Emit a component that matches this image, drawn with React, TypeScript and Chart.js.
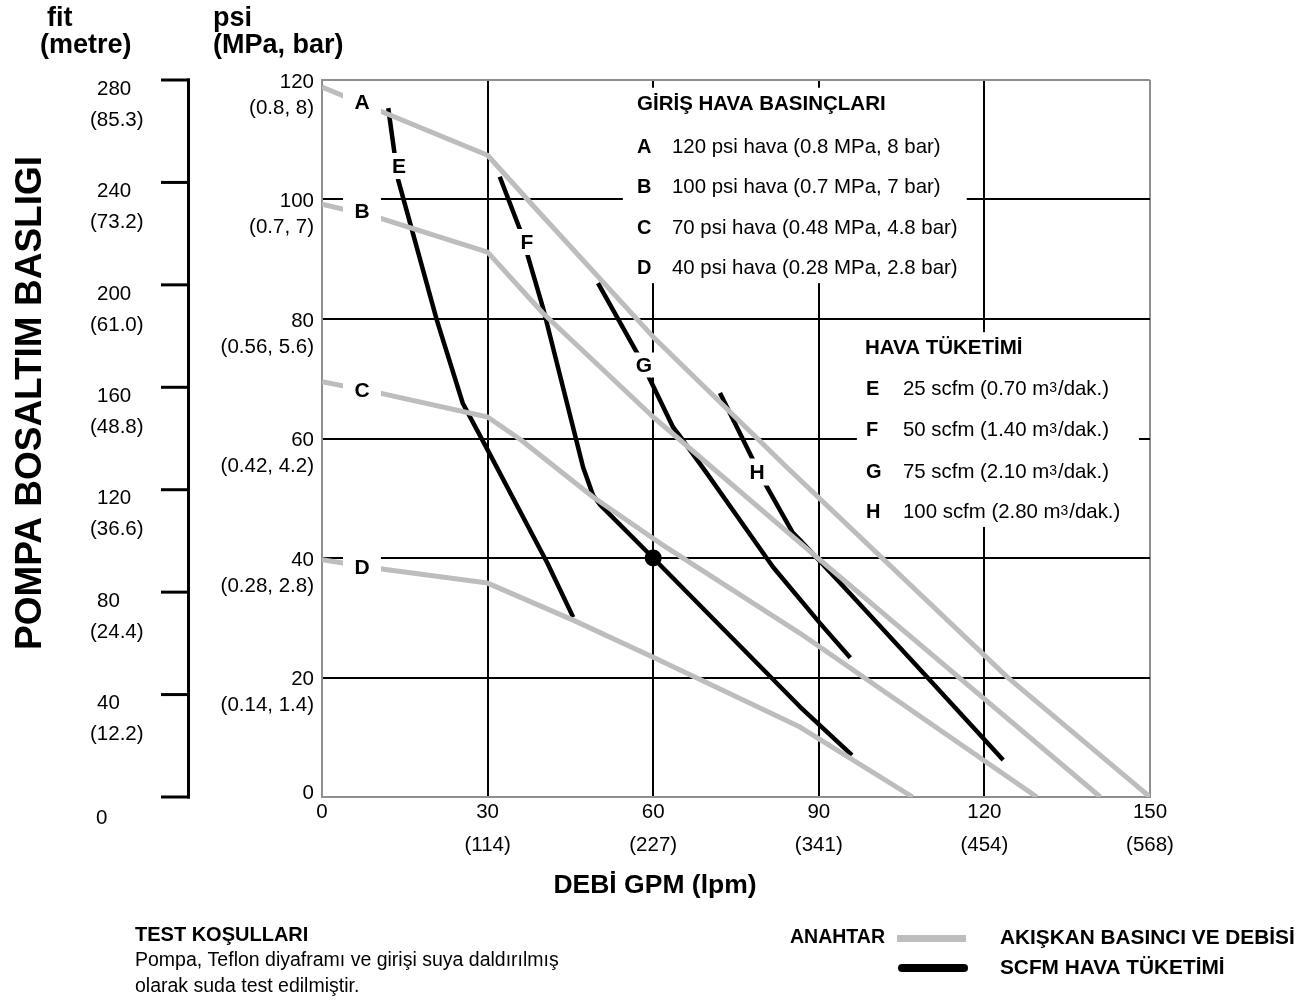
import React, { useEffect, useRef } from "react";
import { Chart, registerables } from "chart.js";

Chart.register(...registerables);

const FONT = '"Liberation Sans", Arial, Helvetica, sans-serif';
const GRAY = "#bdbdbd";
const BLACK = "#000000";
const FRAME = "#8f8f8f";

// ---- axis tick labels ----
const xTickValues = [0, 30, 60, 90, 120, 150];
const xTickLpm = ["", "(114)", "(227)", "(341)", "(454)", "(568)"];
const yTickValues = [0, 20, 40, 60, 80, 100, 120];
const yTickMpaBar = ["", "(0.14, 1.4)", "(0.28, 2.8)", "(0.42, 4.2)", "(0.56, 5.6)", "(0.7, 7)", "(0.8, 8)"];
const fitTickValues = [0, 40, 80, 120, 160, 200, 240, 280];
const fitTickMetre = ["", "(12.2)", "(24.4)", "(36.6)", "(48.8)", "(61.0)", "(73.2)", "(85.3)"];

// ---- fluid pressure & flow curves (gray) : GPM / psi ----
const curveA_gpm = [0, 30, 38, 60, 84.2, 124.1, 150];
const curveA_psi = [118.8, 107.4, 99.2, 77.0, 55.2, 20.1, 0];
const curveB_gpm = [0, 10.5, 30, 40, 60, 90.2, 141];
const curveB_psi = [99.2, 96.9, 91.2, 81.0, 63.6, 39.7, 0];
const curveC_gpm = [0, 10.5, 30, 36, 49.1, 61.2, 86.6, 129.5];
const curveC_psi = [69.5, 67.6, 63.6, 59.8, 50.2, 42.5, 27.4, 0];
const curveD_gpm = [0, 10.5, 30, 45.5, 60, 86.6, 107];
const curveD_psi = [39.7, 38.2, 35.8, 29.6, 23.4, 11.7, 0];

// ---- air consumption curves (black) : GPM / psi ----
const curveE_gpm = [12, 13.8, 20.8, 25.5, 30, 40.8, 45.5];
const curveE_psi = [115.3, 103.3, 79.8, 65.9, 58.1, 39.2, 30.1];
const curveF_gpm = [32.2, 35.9, 40.0, 47.3, 49.1, 50.4, 60, 86.6, 96];
const curveF_psi = [103.8, 94.9, 82.0, 55.2, 50.5, 48.9, 40, 15.1, 7.0];
const curveG_gpm = [50, 57.1, 63.6, 64.9, 69.7, 81.7, 90.2, 95.7];
const curveG_psi = [86.0, 74.3, 61.9, 60.3, 54.2, 38.5, 29.1, 23.3];
const curveH_gpm = [72.1, 78.1, 80.6, 85.3, 86.6, 95.1, 108.9, 123.4];
const curveH_psi = [67.6, 56.4, 51.9, 44.2, 43.0, 34.6, 20.8, 6.2];

// ---- operating point ----
const pointGpm = [60];
const pointPsi = [40];

// ---- legend texts ----
const pressureTitle = "GİRİŞ HAVA BASINÇLARI";
const pressureKeys = ["A", "B", "C", "D"];
const pressureTexts = [
  "120 psi hava (0.8 MPa, 8 bar)",
  "100 psi hava (0.7 MPa, 7 bar)",
  "70 psi hava (0.48 MPa, 4.8 bar)",
  "40 psi hava (0.28 MPa, 2.8 bar)",
];
const airTitle = "HAVA TÜKETİMİ";
const airKeys = ["E", "F", "G", "H"];
const airTexts = ["25 scfm (0.70 m", "50 scfm (1.40 m", "75 scfm (2.10 m", "100 scfm (2.80 m"];

const toXY = (xs: number[], ys: number[]) => xs.map((x, i) => ({ x, y: ys[i] }));

function txt(
  ctx: CanvasRenderingContext2D,
  s: string,
  x: number,
  y: number,
  font: string,
  align: CanvasTextAlign = "left"
) {
  ctx.font = font;
  ctx.textAlign = align;
  ctx.textBaseline = "middle";
  ctx.fillStyle = "#000";
  ctx.fillText(s, x, y);
}

const overlayPlugin = {
  id: "overlay",
  beforeDatasetsDraw(chart: any) {
    const ctx: CanvasRenderingContext2D = chart.ctx;
    const xs = chart.scales.x;
    const ys = chart.scales.y;
    ctx.save();
    ctx.fillStyle = "#fff";
    // white backgrounds of the two legend blocks (hide grid lines)
    const b1x1 = xs.getPixelForValue(54.5), b1x2 = xs.getPixelForValue(116.8);
    const b1y1 = ys.getPixelForValue(118.7), b1y2 = ys.getPixelForValue(86.0);
    ctx.fillRect(b1x1, b1y1, b1x2 - b1x1, b1y2 - b1y1);
    const b2x1 = xs.getPixelForValue(96.9), b2x2 = xs.getPixelForValue(148.0);
    const b2y1 = ys.getPixelForValue(77.8), b2y2 = ys.getPixelForValue(45.2);
    ctx.fillRect(b2x1, b2y1, b2x2 - b2x1, b2y2 - b2y1);
    ctx.restore();
  },
  afterDatasetsDraw(chart: any) {
    const ctx: CanvasRenderingContext2D = chart.ctx;
    const xs = chart.scales.x;
    const ys = chart.scales.y;
    ctx.save();

    // curve letters with white gaps
    const letters: [string, number, number, number, number][] = [
      ["A", 362, 102, 38, 28],
      ["B", 362, 211, 38, 26],
      ["C", 362, 390, 38, 26],
      ["D", 362, 567, 38, 26],
      ["E", 399, 166, 22, 26],
      ["F", 527, 242, 22, 26],
      ["G", 644, 365, 24, 25],
      ["H", 757, 472, 24, 27],
    ];
    letters.forEach(([s, x, y, w, h]) => {
      ctx.fillStyle = "#fff";
      ctx.fillRect(x - w / 2, y - h / 2, w, h);
      txt(ctx, s, x, y + 1, `bold 21px ${FONT}`, "center");
    });

    // legend block 1
    txt(ctx, pressureTitle, 637, 104, `bold 20.5px ${FONT}`);
    const rows1 = [147, 187, 228, 268];
    pressureKeys.forEach((k, i) => {
      const y = rows1[i];
      txt(ctx, k, 637, y, `bold 20px ${FONT}`);
      txt(ctx, pressureTexts[i], 672, y, `20.4px ${FONT}`);
    });
    // legend block 2
    txt(ctx, airTitle, 865, 348, `bold 20.5px ${FONT}`);
    const rows2 = [389, 430, 472, 512];
    airKeys.forEach((k, i) => {
      const y = rows2[i];
      txt(ctx, k, 866, y, `bold 20px ${FONT}`);
      ctx.font = `20.4px ${FONT}`;
      const w1 = ctx.measureText(airTexts[i]).width;
      txt(ctx, airTexts[i], 903, y, `20.4px ${FONT}`);
      txt(ctx, "3", 903 + w1, y - 1, `14px ${FONT}`);
      ctx.font = `14px ${FONT}`;
      const w2 = ctx.measureText("3").width;
      txt(ctx, "/dak.)", 903 + w1 + w2 + 1, y, `20.4px ${FONT}`);
    });

    // psi tick labels
    const tf = `20.5px ${FONT}`;
    yTickValues.forEach((v, i) => {
      const py = ys.getPixelForValue(v);
      if (v === 0) {
        txt(ctx, "0", 314, py - 4, tf, "right");
      } else {
        txt(ctx, String(v), 314, py + 2, tf, "right");
        txt(ctx, yTickMpaBar[i], 314, py + 28, tf, "right");
      }
    });
    // GPM tick labels
    xTickValues.forEach((v, i) => {
      const px = xs.getPixelForValue(v);
      txt(ctx, String(v), px, 812, tf, "center");
      if (xTickLpm[i]) txt(ctx, xTickLpm[i], px, 845, tf, "center");
    });

    // feet / metre axis
    const fitPx = (v: number) => ys.getPixelForValue((v * 120) / 280);
    ctx.strokeStyle = "#000";
    ctx.lineWidth = 3;
    ctx.beginPath();
    ctx.moveTo(188.5, fitPx(280) - 1.5);
    ctx.lineTo(188.5, fitPx(0) + 1.5);
    ctx.stroke();
    fitTickValues.forEach((v, i) => {
      const py = fitPx(v);
      ctx.beginPath();
      ctx.moveTo(161, py);
      ctx.lineTo(190, py);
      ctx.stroke();
      if (v === 0) {
        txt(ctx, "0", 96, py + 21, tf);
      } else {
        txt(ctx, String(v), 97, py + 9, tf);
        txt(ctx, fitTickMetre[i], 90, py + 40, tf);
      }
    });

    // axis headers
    txt(ctx, "fit", 47, 19, `bold 27px ${FONT}`);
    txt(ctx, "(metre)", 40, 46, `bold 27px ${FONT}`);
    txt(ctx, "psi", 213, 19, `bold 27px ${FONT}`);
    txt(ctx, "(MPa, bar)", 213, 46, `bold 27px ${FONT}`);

    // y title (rotated)
    ctx.save();
    ctx.translate(31, 403);
    ctx.rotate(-Math.PI / 2);
    txt(ctx, "POMPA BOSALTIM BASLIGI", 0, 0, `bold 37px ${FONT}`, "center");
    ctx.restore();

    // x title
    txt(ctx, "DEBİ GPM (lpm)", 655, 886, `bold 26.5px ${FONT}`, "center");

    // test conditions
    txt(ctx, "TEST KOŞULLARI", 135, 935, `bold 20px ${FONT}`);
    txt(ctx, "Pompa, Teflon diyaframı ve girişi suya daldırılmış", 135, 961, `19.5px ${FONT}`);
    txt(ctx, "olarak suda test edilmiştir.", 135, 987, `19.5px ${FONT}`);

    // key
    txt(ctx, "ANAHTAR", 885, 938, `bold 19.5px ${FONT}`, "right");
    ctx.fillStyle = GRAY;
    ctx.fillRect(897, 935, 69, 7);
    ctx.strokeStyle = BLACK;
    ctx.lineWidth = 8;
    ctx.lineCap = "round";
    ctx.beginPath();
    ctx.moveTo(902, 968);
    ctx.lineTo(964, 968);
    ctx.stroke();
    txt(ctx, "AKIŞKAN BASINCI VE DEBİSİ", 1000, 938, `bold 20.8px ${FONT}`);
    txt(ctx, "SCFM HAVA TÜKETİMİ", 1000, 968, `bold 20.8px ${FONT}`);

    ctx.restore();
  },
};

const grayDs = (xs: number[], ys: number[]) => ({
  data: toXY(xs, ys),
  borderColor: GRAY,
  borderWidth: 5,
  pointRadius: 0,
  borderJoinStyle: "round" as const,
  borderCapStyle: "butt" as const,
  tension: 0,
});
const blackDs = (xs: number[], ys: number[]) => ({
  data: toXY(xs, ys),
  borderColor: BLACK,
  borderWidth: 4.5,
  pointRadius: 0,
  borderJoinStyle: "round" as const,
  borderCapStyle: "butt" as const,
  tension: 0,
});

const edgeColor = (max: number) => (c: any) =>
  c.tick && (c.tick.value === 0 || c.tick.value === max) ? FRAME : BLACK;

export default function App() {
  const ref = useRef<HTMLCanvasElement>(null);
  useEffect(() => {
    if (!ref.current) return;
    const chart = new Chart(ref.current, {
      type: "line",
      data: {
        datasets: [
          grayDs(curveA_gpm, curveA_psi),
          grayDs(curveB_gpm, curveB_psi),
          grayDs(curveC_gpm, curveC_psi),
          grayDs(curveD_gpm, curveD_psi),
          blackDs(curveE_gpm, curveE_psi),
          blackDs(curveF_gpm, curveF_psi),
          blackDs(curveG_gpm, curveG_psi),
          blackDs(curveH_gpm, curveH_psi),
          {
            data: toXY(pointGpm, pointPsi),
            showLine: false,
            pointRadius: 8.5,
            pointBackgroundColor: BLACK,
            pointBorderWidth: 0,
            borderColor: BLACK,
          },
        ] as any,
      },
      options: {
        responsive: false,
        animation: false,
        devicePixelRatio: 1,
        layout: { padding: { left: 322, top: 80, right: 159, bottom: 206 } },
        plugins: { legend: { display: false }, tooltip: { enabled: false } },
        scales: {
          x: {
            type: "linear",
            min: 0,
            max: 150,
            ticks: { stepSize: 30, display: false },
            grid: { color: edgeColor(150), lineWidth: 2, drawTicks: false },
            border: { color: FRAME, width: 2 },
          },
          y: {
            type: "linear",
            min: 0,
            max: 120,
            ticks: { stepSize: 20, display: false },
            grid: { color: edgeColor(120), lineWidth: 2, drawTicks: false },
            border: { color: FRAME, width: 2 },
          },
        },
      } as any,
      plugins: [overlayPlugin],
    });
    return () => chart.destroy();
  }, []);
  return (
    <div style={{ position: "absolute", left: 0, top: 0, width: 1309, height: 1003, background: "#fff" }}>
      <canvas ref={ref} width={1309} height={1003} style={{ display: "block" }} />
    </div>
  );
}
